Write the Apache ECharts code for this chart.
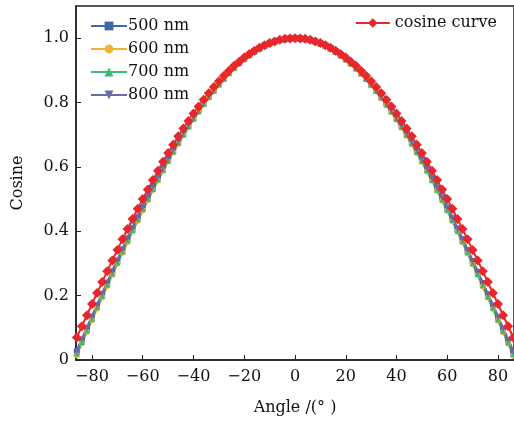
<!DOCTYPE html>
<html>
<head>
<meta charset="utf-8">
<script src="https://cdn.jsdelivr.net/npm/echarts@6/dist/echarts.min.js"></script>
<style>
  html, body { margin: 0; padding: 0; background: #fff; }
  #chart { width: 514px; height: 425px; }
</style>
</head>
<body>
<div id="chart"></div>
<script>
// Angles in degrees (-86 .. 86, step 2)
const angles = [-86,-84,-82,-80,-78,-76,-74,-72,-70,-68,-66,-64,-62,-60,-58,-56,-54,-52,-50,-48,-46,-44,-42,-40,-38,-36,-34,-32,-30,-28,-26,-24,-22,-20,-18,-16,-14,-12,-10,-8,-6,-4,-2,0,
  2,4,6,8,10,12,14,16,18,20,22,24,26,28,30,32,34,36,38,40,42,44,46,48,50,52,54,56,58,60,62,64,66,68,70,72,74,76,78,80,82,84,86];

const cosineCurve = [0.070,0.105,0.139,0.174,0.208,0.242,0.276,0.309,0.342,0.375,0.407,0.438,0.470,0.500,0.530,0.559,0.588,0.616,0.643,0.669,0.695,0.719,0.743,0.766,0.788,0.809,0.829,0.848,0.866,0.883,0.899,0.914,0.927,0.940,0.951,0.961,0.970,0.978,0.985,0.990,0.995,0.998,0.999,1.000,
  0.999,0.998,0.995,0.990,0.985,0.978,0.970,0.961,0.951,0.940,0.927,0.914,0.899,0.883,0.866,0.848,0.829,0.809,0.788,0.766,0.743,0.719,0.695,0.669,0.643,0.616,0.588,0.559,0.530,0.500,0.470,0.438,0.407,0.375,0.342,0.309,0.276,0.242,0.208,0.174,0.139,0.105,0.070];

const nm500 = [0.025,0.061,0.097,0.132,0.168,0.203,0.238,0.273,0.307,0.341,0.375,0.408,0.441,0.473,0.504,0.535,0.565,0.594,0.623,0.650,0.677,0.703,0.728,0.752,0.776,0.798,0.819,0.839,0.858,0.876,0.893,0.908,0.923,0.936,0.948,0.959,0.969,0.977,0.984,0.990,0.994,0.997,0.999,1.000,
  0.999,0.997,0.994,0.990,0.984,0.977,0.969,0.959,0.948,0.936,0.923,0.908,0.893,0.876,0.858,0.839,0.819,0.798,0.776,0.752,0.728,0.703,0.677,0.650,0.623,0.594,0.565,0.535,0.504,0.473,0.441,0.408,0.375,0.341,0.307,0.273,0.238,0.203,0.168,0.132,0.097,0.061,0.025];

const nm600 = [0.015,0.052,0.088,0.124,0.160,0.195,0.230,0.265,0.299,0.333,0.367,0.400,0.433,0.465,0.497,0.528,0.558,0.588,0.617,0.645,0.672,0.698,0.723,0.748,0.771,0.794,0.815,0.836,0.855,0.873,0.890,0.906,0.921,0.934,0.946,0.957,0.967,0.976,0.983,0.989,0.994,0.997,0.999,1.000,
  0.999,0.997,0.993,0.989,0.983,0.975,0.966,0.956,0.945,0.933,0.920,0.905,0.889,0.872,0.854,0.835,0.814,0.793,0.770,0.747,0.722,0.697,0.671,0.644,0.616,0.587,0.557,0.527,0.496,0.464,0.432,0.399,0.366,0.332,0.298,0.264,0.229,0.194,0.159,0.123,0.087,0.051,0.014];

const nm700 = [0.020,0.056,0.092,0.128,0.164,0.199,0.234,0.269,0.303,0.337,0.371,0.404,0.437,0.469,0.500,0.531,0.561,0.591,0.620,0.648,0.675,0.701,0.726,0.750,0.773,0.796,0.817,0.837,0.856,0.874,0.891,0.907,0.922,0.935,0.947,0.958,0.968,0.976,0.984,0.989,0.994,0.997,0.999,1.000,
  0.999,0.997,0.994,0.989,0.983,0.976,0.967,0.957,0.946,0.934,0.921,0.906,0.890,0.873,0.855,0.836,0.816,0.794,0.772,0.749,0.724,0.699,0.673,0.646,0.618,0.589,0.559,0.529,0.498,0.467,0.435,0.402,0.369,0.335,0.301,0.267,0.232,0.197,0.162,0.126,0.090,0.054,0.018];

const nm800 = [0.028,0.064,0.100,0.135,0.171,0.206,0.241,0.276,0.310,0.344,0.378,0.411,0.444,0.476,0.507,0.538,0.568,0.597,0.625,0.653,0.679,0.705,0.730,0.754,0.777,0.799,0.820,0.840,0.859,0.877,0.893,0.909,0.923,0.937,0.949,0.959,0.969,0.977,0.984,0.990,0.994,0.997,0.999,1.000,
  0.999,0.997,0.994,0.990,0.984,0.977,0.969,0.959,0.948,0.936,0.922,0.908,0.892,0.875,0.857,0.838,0.818,0.797,0.775,0.752,0.728,0.703,0.677,0.651,0.623,0.595,0.566,0.536,0.505,0.474,0.442,0.409,0.376,0.342,0.308,0.274,0.239,0.204,0.169,0.133,0.097,0.062,0.026];

const xTicks = [-80, -60, -40, -20, 0, 20, 40, 60, 80];
const yTicks = [0, 0.2, 0.4, 0.6, 0.8, 1.0];

const font = 'DejaVu Serif';
const pairs = arr => angles.map((a, i) => [a, arr[i]]);

// measured series share the same look
const measured = (name, data, color, symbol, size) => ({
    name: name,
    type: 'line',
    data: pairs(data),
    symbol: symbol,
    symbolSize: size,
    itemStyle: { color: color },
    lineStyle: { color: color, width: 2.5 },
    animation: false
});

const chart = echarts.init(document.getElementById('chart'));

chart.setOption({
    backgroundColor: '#fff',
    animation: false,
    grid: {
        left: 76, right: -2, top: 6, bottom: 65,
        show: true, borderColor: '#222', borderWidth: 1.5
    },
    legend: [
        {
            data: ['500 nm', '600 nm', '700 nm', '800 nm'],
            orient: 'vertical',
            left: 85, top: 13,
            itemWidth: 36, itemHeight: 11, itemGap: 7,
            textStyle: { fontFamily: font, fontSize: 16, color: '#111', padding: [0, 0, 0, -4] }
        },
        {
            data: ['cosine curve'],
            right: 12, top: 10,
            itemWidth: 34, itemHeight: 12,
            textStyle: { fontFamily: font, fontSize: 16, color: '#111' }
        }
    ],
    xAxis: {
        type: 'value',
        min: -86.3, max: 86.3,
        name: 'Angle /(° )',
        nameLocation: 'middle',
        nameGap: 40,
        nameTextStyle: { fontFamily: font, fontSize: 16, color: '#111' },
        axisLine: { show: true, onZero: false, lineStyle: { color: '#222', width: 1.5 } },
        axisTick: { inside: true, length: 5, customValues: xTicks, lineStyle: { color: '#222' } },
        axisLabel: {
            customValues: xTicks,
            fontFamily: font, fontSize: 16, color: '#111', margin: 9,
            formatter: v => (v < 0 ? '\u2212' + Math.abs(v) : String(v))
        },
        splitLine: { show: false }
    },
    yAxis: {
        type: 'value',
        min: 0, max: 1.1,
        name: 'Cosine',
        nameLocation: 'middle',
        nameGap: 50,
        nameTextStyle: { fontFamily: font, fontSize: 16, color: '#111' },
        axisLine: { show: true, onZero: false, lineStyle: { color: '#222', width: 1.5 } },
        axisTick: { inside: true, length: 5, customValues: yTicks, lineStyle: { color: '#222' } },
        axisLabel: {
            customValues: yTicks,
            fontFamily: font, fontSize: 16, color: '#111', margin: 7,
            formatter: v => (v === 0 ? '0' : v.toFixed(1))
        },
        splitLine: { show: false }
    },
    series: [
        measured('500 nm', nm500, '#44679f', 'rect', 6),
        measured('600 nm', nm600, '#f2b233', 'circle', 6),
        measured('700 nm', nm700, '#3cb878', 'triangle', 6),
        measured('800 nm', nm800, '#6a6ca6', 'path://M0,0 L10,0 L5,10 Z', 6),
        {
            name: 'cosine curve',
            type: 'line',
            data: pairs(cosineCurve),
            symbol: 'diamond',
            symbolSize: 10,
            itemStyle: { color: '#e8262b' },
            lineStyle: { color: '#e8262b', width: 2 },
            animation: false
        }
    ]
});
</script>
</body>
</html>
